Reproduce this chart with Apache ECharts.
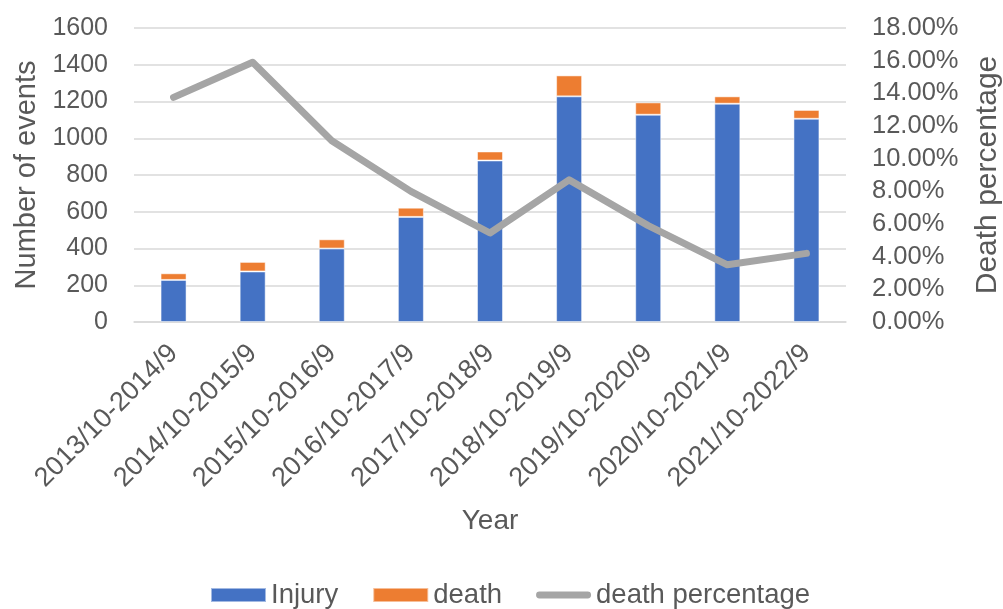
<!DOCTYPE html>
<html>
<head>
<meta charset="utf-8">
<script src="https://cdn.jsdelivr.net/npm/echarts@6/dist/echarts.min.js"></script>
<style>
html,body{margin:0;padding:0;background:#fff;overflow:hidden;}
#chart{width:1003px;height:609px;}
</style>
</head>
<body>
<div id="chart"></div>
<script>
const categories = ['2013/10-2014/9','2014/10-2015/9','2015/10-2016/9','2016/10-2017/9','2017/10-2018/9','2018/10-2019/9','2019/10-2020/9','2020/10-2021/9','2021/10-2022/9'];
const injury = [229, 275, 400, 572, 879, 1228, 1128, 1188, 1106];
const death = [36, 52, 50, 50, 49, 114, 67, 40, 48];
const deathPct = [13.75, 15.9, 11.1, 8.0, 5.45, 8.7, 5.9, 3.5, 4.2];
const leftTicks = {min: 0, max: 1600, interval: 200};
const rightTicks = {min: 0, max: 18, interval: 2};

const FONT = 'Liberation Sans, Arial, sans-serif';
const TXT = '#595959';
const chart = echarts.init(document.getElementById('chart'), null, {renderer: 'canvas'});
chart.setOption({
  animation: false,
  backgroundColor: '#fff',
  textStyle: {fontFamily: FONT},
  grid: {left: 134, right: 157, top: 28, bottom: 287, containLabel: false, outerBoundsMode: 'none'},
  legend: {
    top: 576,
    left: 205,
    itemWidth: 55,
    itemHeight: 14,
    itemGap: 34,
    textStyle: {fontFamily: FONT, fontSize: 27.5, color: TXT},
    data: [
      {name: 'Injury', icon: 'rect'},
      {name: 'death', icon: 'rect'},
      {name: 'death percentage', icon: 'path://M4,0 L60,0 A4,4 0 0 1 60,8 L4,8 A4,4 0 0 1 4,0 Z'}
    ]
  },
  xAxis: {
    type: 'category',
    data: categories,
    name: 'Year',
    nameLocation: 'middle',
    nameGap: 185,
    nameTextStyle: {fontFamily: FONT, fontSize: 28, color: TXT},
    axisLine: {lineStyle: {color: '#D9D9D9', width: 1.5}},
    axisTick: {show: false},
    axisLabel: {rotate: 45, interval: 0, fontFamily: FONT, fontSize: 27, color: TXT, margin: 27}
  },
  yAxis: [
    {
      type: 'value',
      min: leftTicks.min, max: leftTicks.max, interval: leftTicks.interval,
      name: 'Number of events',
      nameLocation: 'middle',
      nameGap: 88,
      nameTextStyle: {fontFamily: FONT, fontSize: 29, color: TXT},
      axisLine: {show: false},
      axisTick: {show: false},
      axisLabel: {fontFamily: FONT, fontSize: 25, color: TXT, margin: 26,
        formatter: v => String(v)},
      splitLine: {lineStyle: {color: '#D9D9D9', width: 1.5}}
    },
    {
      type: 'value',
      position: 'right',
      min: rightTicks.min, max: rightTicks.max, interval: rightTicks.interval,
      name: 'Death percentage',
      nameLocation: 'middle',
      nameGap: 127,
      nameRotate: 90,
      nameTextStyle: {fontFamily: FONT, fontSize: 30, color: TXT},
      axisLine: {show: false},
      axisTick: {show: false},
      axisLabel: {fontFamily: FONT, fontSize: 25.5, color: TXT, margin: 26,
        formatter: v => v.toFixed(2) + '%'},
      splitLine: {show: false}
    }
  ],
  series: [
    {
      name: 'Injury', type: 'bar', stack: 'events', data: injury,
      barWidth: 26,
      itemStyle: {color: '#4472C4', borderColor: 'rgba(255,255,255,0.5)', borderWidth: 1}
    },
    {
      name: 'death', type: 'bar', stack: 'events', data: death,
      barWidth: 26,
      itemStyle: {color: '#ED7D31', borderColor: 'rgba(255,255,255,0.5)', borderWidth: 1}
    },
    {
      name: 'death percentage', type: 'line', yAxisIndex: 1, data: deathPct,
      symbol: 'none',
      lineStyle: {color: '#A5A5A5', width: 7, cap: 'round', join: 'round'},
      itemStyle: {color: '#A5A5A5'}
    }
  ]
});
</script>
</body>
</html>
